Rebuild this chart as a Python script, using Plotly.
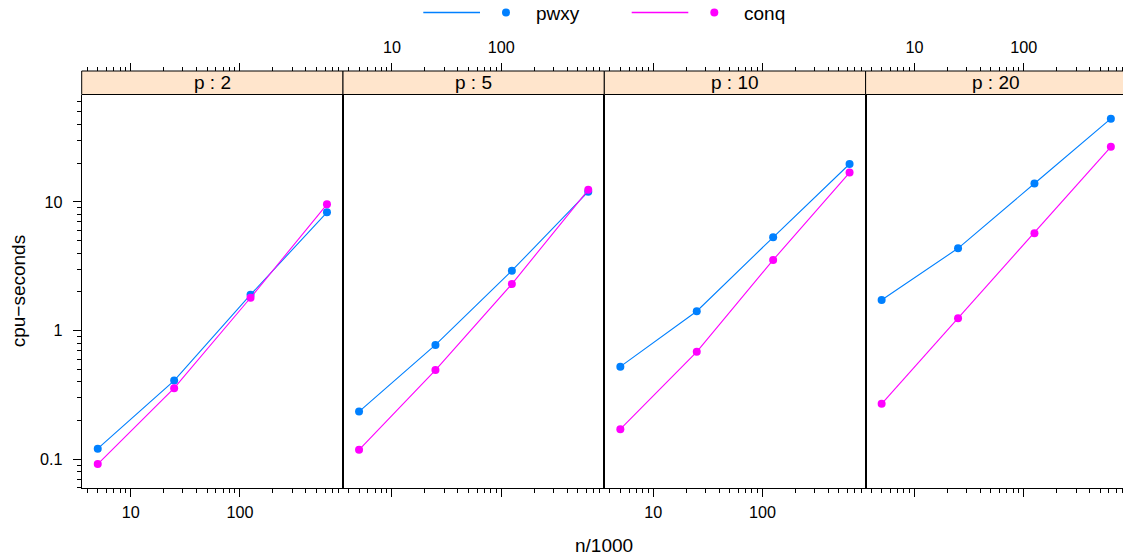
import math
import plotly.graph_objects as go

# ---------------- data ----------------
n_thousands = [5, 25, 125, 625]
p_levels = ["p : 2", "p : 5", "p : 10", "p : 20"]

pwxy_p2 = [0.121, 0.409, 1.90, 8.30]
pwxy_p5 = [0.235, 0.774, 2.92, 12.0]
pwxy_p10 = [0.525, 1.415, 5.31, 19.7]
pwxy_p20 = [1.73, 4.36, 13.9, 44.3]

conq_p2 = [0.092, 0.357, 1.80, 9.58]
conq_p5 = [0.1186, 0.494, 2.30, 12.4]
conq_p10 = [0.1716, 0.684, 3.54, 16.9]
conq_p20 = [0.270, 1.25, 5.70, 26.8]

x_major = [10, 100]
x_minor = [4, 5, 6, 7, 8, 9, 20, 30, 40, 50, 60, 70, 80, 90,
           200, 300, 400, 500, 600, 700, 800]
y_major = [0.1, 1, 10]
y_minor = [0.06, 0.07, 0.08, 0.09, 0.2, 0.3, 0.4, 0.5, 0.6, 0.7, 0.8, 0.9,
           2, 3, 4, 5, 6, 7, 8, 9, 20, 30, 40, 50, 60]

pwxy_series = [pwxy_p2, pwxy_p5, pwxy_p10, pwxy_p20]
conq_series = [conq_p2, conq_p5, conq_p10, conq_p20]

# ---------------- geometry ----------------
W, H = 1123, 559
FONT = "Liberation Sans, Arial, Helvetica, sans-serif"
BLUE = "#0080ff"
MAG = "#ff00ff"

# lattice-style 7% padding on log scales
lx = [math.log10(v) for v in n_thousands]
xpad = 0.07 * (max(lx) - min(lx))
xr = [min(lx) - xpad, max(lx) + xpad]
all_y = [v for s in pwxy_series + conq_series for v in s]
ly = [math.log10(v) for v in all_y]
ypad = 0.07 * (max(ly) - min(ly))
yr = [min(ly) - ypad, max(ly) + ypad]

left_px = 81.7
panel_px = 261.3
px_per_dec = panel_px / (xr[1] - xr[0])
top_px, bot_px = 94.5, 488.2
strip_top_px = 71.0

def fx(px):
    return px / W

def fy(py):
    return (H - py) / H

ydom = [fy(bot_px), fy(top_px)]

fig = go.Figure()

for i in range(4):
    k = "" if i == 0 else str(i + 1)
    xa = "x" + k
    ya = "y" + k
    fig.add_trace(go.Scatter(x=n_thousands, y=pwxy_series[i], mode="lines+markers",
                             line=dict(color=BLUE, width=1.1),
                             marker=dict(color=BLUE, size=8),
                             name="pwxy", showlegend=False, xaxis=xa, yaxis=ya))
    fig.add_trace(go.Scatter(x=n_thousands, y=conq_series[i], mode="lines+markers",
                             line=dict(color=MAG, width=1.1),
                             marker=dict(color=MAG, size=8),
                             name="conq", showlegend=False, xaxis=xa, yaxis=ya))
    # empty trace to instantiate the top (overlaying) axis
    fig.add_trace(go.Scatter(x=[], y=[], xaxis="x" + str(i + 5), yaxis=ya,
                             showlegend=False, hoverinfo="skip"))

TICK_SIZE = 16.2
layout = dict(
    width=W, height=H,
    margin=dict(l=0, r=0, t=0, b=0),
    paper_bgcolor="white", plot_bgcolor="white",
    font=dict(family=FONT, size=TICK_SIZE, color="black"),
    showlegend=False,
)

tickfont = dict(family=FONT, size=TICK_SIZE, color="black")

for i in range(4):
    x0 = left_px + i * panel_px
    x1 = x0 + panel_px
    rng = list(xr)
    if x1 > W:
        rng = [xr[0], xr[0] + (W - x0) / px_per_dec]
        x1 = W
    dom = [fx(x0), fx(x1)]
    k = "" if i == 0 else str(i + 1)
    bottom_labels = (i % 2 == 0)
    layout["xaxis" + k] = dict(
        type="log", range=rng, domain=dom, anchor="y" + k,
        showgrid=False, zeroline=False,
        showline=True, linecolor="black", linewidth=1,
        ticks="outside", ticklen=8, tickcolor="black", tickwidth=1,
        tickmode="array", tickvals=x_major,
        ticktext=[str(v) for v in x_major],
        showticklabels=bottom_labels, tickfont=tickfont, ticklabelstandoff=1,
        minor=dict(ticks="outside", ticklen=4, tickcolor="black", tickwidth=1,
                   tickmode="array", tickvals=x_minor, showgrid=False),
    )
    layout["xaxis" + str(i + 5)] = dict(
        type="log", range=rng, domain=dom, overlaying="x" + k,
        anchor="free", position=fy(strip_top_px), side="top",
        showgrid=False, zeroline=False, showline=False,
        ticks="outside", ticklen=8, tickcolor="black", tickwidth=1,
        tickmode="array", tickvals=x_major,
        ticktext=[str(v) for v in x_major],
        showticklabels=not bottom_labels, tickfont=tickfont, ticklabelstandoff=4,
        minor=dict(ticks="outside", ticklen=4, tickcolor="black", tickwidth=1,
                   tickmode="array", tickvals=x_minor, showgrid=False),
    )
    yax = dict(
        type="log", range=yr, domain=ydom, anchor="x" + k,
        showgrid=False, zeroline=False,
        showline=True, linecolor="black", linewidth=1,
        mirror=(i < 3),
    )
    if i == 0:
        yax.update(
            ticks="outside", ticklen=8, tickcolor="black", tickwidth=1,
            tickmode="array", tickvals=y_major,
            ticktext=["0.1", "1", "10"],
            showticklabels=True, tickfont=tickfont, ticklabelstandoff=7,
            minor=dict(ticks="outside", ticklen=4, tickcolor="black", tickwidth=1,
                       tickmode="array", tickvals=y_minor, showgrid=False),
        )
    else:
        yax.update(ticks="", showticklabels=False, matches="y")
    layout["yaxis" + k] = yax

fig.update_layout(**layout)

shapes = []
annotations = []
for i in range(4):
    x0 = left_px + i * panel_px
    x1 = min(x0 + panel_px, W + 10)
    shapes.append(dict(type="rect", xref="paper", yref="paper",
                       x0=fx(x0), x1=fx(x1), y0=fy(top_px), y1=fy(strip_top_px),
                       fillcolor="#ffe5cc", line=dict(color="black", width=1),
                       layer="above"))
    annotations.append(dict(text=p_levels[i], xref="paper", yref="paper",
                            x=fx(x0 + panel_px / 2), y=fy((top_px + strip_top_px) / 2),
                            xanchor="center", yanchor="middle", showarrow=False,
                            font=dict(family=FONT, size=19, color="black")))

# legend key (lattice style: line, point, label)
leg_y = fy(12.5)
for (lx0, lx1, px_, tx, col, label) in [(423.3, 480.0, 506.0, 534.0, BLUE, "pwxy"),
                                        (631.7, 688.3, 714.3, 741.7, MAG, "conq")]:
    shapes.append(dict(type="line", xref="paper", yref="paper",
                       x0=fx(lx0), x1=fx(lx1), y0=leg_y, y1=leg_y,
                       line=dict(color=col, width=1.5)))
    shapes.append(dict(type="circle", xref="paper", yref="paper",
                       x0=fx(px_ - 4), x1=fx(px_ + 4), y0=fy(12.5 + 4), y1=fy(12.5 - 4),
                       fillcolor=col, line=dict(color=col, width=0)))
    annotations.append(dict(text=label, xref="paper", yref="paper",
                            x=fx(tx), y=fy(13), xanchor="left", yanchor="middle",
                            showarrow=False,
                            font=dict(family=FONT, size=19, color="black")))

# axis titles
annotations.append(dict(text="n/1000", xref="paper", yref="paper",
                        x=fx(604), y=fy(545), xanchor="center", yanchor="middle",
                        showarrow=False, font=dict(family=FONT, size=19, color="black")))
annotations.append(dict(text="cpu\u2212seconds", xref="paper", yref="paper",
                        x=fx(18), y=fy((top_px + bot_px) / 2), xanchor="center",
                        yanchor="middle", textangle=-90, showarrow=False,
                        font=dict(family=FONT, size=19, color="black")))

fig.update_layout(shapes=shapes, annotations=annotations)

fig.write_html("out.html",
               config={"displayModeBar": False},
               post_script="document.body.style.margin='0';"
                           "document.body.style.overflow='hidden';")
